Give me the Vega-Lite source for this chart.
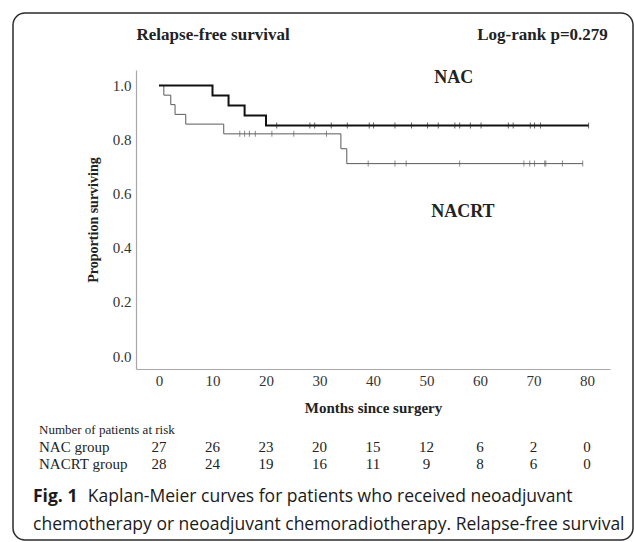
{
  "$schema": "https://vega.github.io/schema/vega-lite/v6.json",
  "width": 620,
  "height": 527,
  "autosize": "none",
  "padding": {"left": 13, "top": 13, "right": 1, "bottom": 2},
  "background": "white",
  "config": {
    "view": {"stroke": "#2b2b2b", "strokeWidth": 1.5, "cornerRadius": 12, "fill": "white"},
    "axis": {"grid": false, "ticks": false, "domainColor": "#a8a8a8", "domainWidth": 1.2, "labelFont": "Liberation Serif", "labelFontSize": 15, "labelColor": "#333333", "titleFont": "Liberation Serif", "titleFontWeight": "bold", "titleColor": "#222222"},
    "text": {"font": "Liberation Serif", "baseline": "middle", "color": "#222222"}
  },
  "datasets": {
    "km": [
      {"group": "NAC", "time": 0, "surv": 1.0},
      {"group": "NAC", "time": 10, "surv": 0.963},
      {"group": "NAC", "time": 13, "surv": 0.926},
      {"group": "NAC", "time": 16, "surv": 0.889},
      {"group": "NAC", "time": 20, "surv": 0.852},
      {"group": "NAC", "time": 80.3, "surv": 0.852},
      {"group": "NACRT", "time": 0, "surv": 1.0},
      {"group": "NACRT", "time": 0.9, "surv": 0.964},
      {"group": "NACRT", "time": 2.2, "surv": 0.929},
      {"group": "NACRT", "time": 3.0, "surv": 0.893},
      {"group": "NACRT", "time": 5.0, "surv": 0.857},
      {"group": "NACRT", "time": 12.1, "surv": 0.821},
      {"group": "NACRT", "time": 34.0, "surv": 0.766},
      {"group": "NACRT", "time": 35.1, "surv": 0.711},
      {"group": "NACRT", "time": 79.2, "surv": 0.711}
    ],
    "cens": [
      {"group": "NAC", "time": 22.0, "surv": 0.852},
      {"group": "NAC", "time": 28.2, "surv": 0.852},
      {"group": "NAC", "time": 29.1, "surv": 0.852},
      {"group": "NAC", "time": 32.2, "surv": 0.852},
      {"group": "NAC", "time": 35.2, "surv": 0.852},
      {"group": "NAC", "time": 39.3, "surv": 0.852},
      {"group": "NAC", "time": 40.1, "surv": 0.852},
      {"group": "NAC", "time": 44.1, "surv": 0.852},
      {"group": "NAC", "time": 47.2, "surv": 0.852},
      {"group": "NAC", "time": 50.2, "surv": 0.852},
      {"group": "NAC", "time": 52.2, "surv": 0.852},
      {"group": "NAC", "time": 55.3, "surv": 0.852},
      {"group": "NAC", "time": 56.2, "surv": 0.852},
      {"group": "NAC", "time": 58.2, "surv": 0.852},
      {"group": "NAC", "time": 60.2, "surv": 0.852},
      {"group": "NAC", "time": 65.3, "surv": 0.852},
      {"group": "NAC", "time": 66.2, "surv": 0.852},
      {"group": "NAC", "time": 69.4, "surv": 0.852},
      {"group": "NAC", "time": 70.2, "surv": 0.852},
      {"group": "NAC", "time": 71.3, "surv": 0.852},
      {"group": "NAC", "time": 80.3, "surv": 0.852},
      {"group": "NACRT", "time": 15.1, "surv": 0.821},
      {"group": "NACRT", "time": 16.0, "surv": 0.821},
      {"group": "NACRT", "time": 16.9, "surv": 0.821},
      {"group": "NACRT", "time": 18.0, "surv": 0.821},
      {"group": "NACRT", "time": 21.1, "surv": 0.821},
      {"group": "NACRT", "time": 25.2, "surv": 0.821},
      {"group": "NACRT", "time": 31.3, "surv": 0.821},
      {"group": "NACRT", "time": 39.1, "surv": 0.711},
      {"group": "NACRT", "time": 44.1, "surv": 0.711},
      {"group": "NACRT", "time": 46.2, "surv": 0.711},
      {"group": "NACRT", "time": 56.2, "surv": 0.711},
      {"group": "NACRT", "time": 68.2, "surv": 0.711},
      {"group": "NACRT", "time": 69.3, "surv": 0.711},
      {"group": "NACRT", "time": 70.2, "surv": 0.711},
      {"group": "NACRT", "time": 72.1, "surv": 0.711},
      {"group": "NACRT", "time": 72.3, "surv": 0.711},
      {"group": "NACRT", "time": 75.4, "surv": 0.711},
      {"group": "NACRT", "time": 79.2, "surv": 0.711}
    ],
    "risk": [
      {"group": "NAC group", "time": 0, "n": 27},
      {"group": "NAC group", "time": 10, "n": 26},
      {"group": "NAC group", "time": 20, "n": 23},
      {"group": "NAC group", "time": 30, "n": 20},
      {"group": "NAC group", "time": 40, "n": 15},
      {"group": "NAC group", "time": 50, "n": 12},
      {"group": "NAC group", "time": 60, "n": 6},
      {"group": "NAC group", "time": 70, "n": 2},
      {"group": "NAC group", "time": 80, "n": 0},
      {"group": "NACRT group", "time": 0, "n": 28},
      {"group": "NACRT group", "time": 10, "n": 24},
      {"group": "NACRT group", "time": 20, "n": 19},
      {"group": "NACRT group", "time": 30, "n": 16},
      {"group": "NACRT group", "time": 40, "n": 11},
      {"group": "NACRT group", "time": 50, "n": 9},
      {"group": "NACRT group", "time": 60, "n": 8},
      {"group": "NACRT group", "time": 70, "n": 6},
      {"group": "NACRT group", "time": 80, "n": 0}
    ]
  },
  "layer": [
    {
      "layer": [
        {
          "data": {"name": "km"},
          "transform": [{"filter": "datum.group === 'NACRT'"}],
          "mark": {"type": "line", "interpolate": "step-after", "strokeWidth": 1, "color": "#5a5a5a"},
          "encoding": {
            "x": {"field": "time", "type": "quantitative", "title": "Months since surgery",
              "scale": {"domain": [-4.3, 84.3], "range": [123, 597], "nice": false, "zero": false},
              "axis": {"values": [0, 10, 20, 30, 40, 50, 60, 70, 80], "offset": -171, "labelPadding": 4, "titlePadding": 12, "titleFontSize": 15}},
            "y": {"field": "surv", "type": "quantitative", "title": "Proportion surviving",
              "scale": {"domain": [-0.048, 1.057], "range": [356, 57], "nice": false, "zero": false},
              "axis": {"values": [0, 0.2, 0.4, 0.6, 0.8, 1.0], "format": ".1f", "offset": -123, "labelPadding": 5, "titlePadding": 12, "titleFontSize": 14}}
          }
        },
        {
          "data": {"name": "km"},
          "transform": [{"filter": "datum.group === 'NAC'"}],
          "mark": {"type": "line", "interpolate": "step-after", "strokeWidth": 2, "color": "#111111"},
          "encoding": {
            "x": {"field": "time", "type": "quantitative", "title": "Months since surgery"},
            "y": {"field": "surv", "type": "quantitative", "title": "Proportion surviving"}
          }
        },
        {
          "data": {"name": "cens"},
          "mark": {"type": "tick", "orient": "vertical", "size": 6, "thickness": 1},
          "encoding": {
            "x": {"field": "time", "type": "quantitative", "title": "Months since surgery"},
            "y": {"field": "surv", "type": "quantitative", "title": "Proportion surviving"},
            "color": {"field": "group", "type": "nominal", "scale": {"domain": ["NAC", "NACRT"], "range": ["#222222", "#5a5a5a"]}, "legend": null}
          }
        },
        {
          "data": {"values": [{}]},
          "mark": {"type": "text", "text": "NAC", "fontSize": 18, "fontWeight": "bold", "align": "center"},
          "encoding": {"x": {"datum": 55.1, "type": "quantitative", "title": "Months since surgery"}, "y": {"datum": 1.027, "type": "quantitative", "title": "Proportion surviving"}}
        },
        {
          "data": {"values": [{}]},
          "mark": {"type": "text", "text": "NACRT", "fontSize": 18, "fontWeight": "bold", "align": "center"},
          "encoding": {"x": {"datum": 56.8, "type": "quantitative", "title": "Months since surgery"}, "y": {"datum": 0.532, "type": "quantitative", "title": "Proportion surviving"}}
        },
        {
          "data": {"values": [{}]},
          "mark": {"type": "text", "text": "Relapse-free survival", "fontSize": 17, "fontWeight": "bold", "align": "left"},
          "encoding": {"x": {"datum": -4.2, "type": "quantitative", "title": "Months since surgery"}, "y": {"datum": 1.186, "type": "quantitative", "title": "Proportion surviving"}}
        },
        {
          "data": {"values": [{}]},
          "mark": {"type": "text", "text": "Log-rank p=0.279", "fontSize": 17, "fontWeight": "bold", "align": "right"},
          "encoding": {"x": {"datum": 83.9, "type": "quantitative", "title": "Months since surgery"}, "y": {"datum": 1.186, "type": "quantitative", "title": "Proportion surviving"}}
        },
        {
          "data": {"values": [{}]},
          "mark": {"type": "text", "text": "Fig. 1", "font": "Open Sans", "fontSize": 17.5, "fontWeight": "bold", "align": "left", "color": "#1a1a1a"},
          "encoding": {"x": {"datum": -23.55, "type": "quantitative", "title": "Months since surgery"}, "y": {"datum": -0.521, "type": "quantitative", "title": "Proportion surviving"}}
        },
        {
          "data": {"values": [{}]},
          "mark": {"type": "text", "text": "Kaplan-Meier curves for patients who received neoadjuvant", "font": "Open Sans", "fontSize": 17.5, "align": "left", "color": "#1a1a1a"},
          "encoding": {"x": {"datum": -13.3, "type": "quantitative", "title": "Months since surgery"}, "y": {"datum": -0.521, "type": "quantitative", "title": "Proportion surviving"}}
        },
        {
          "data": {"values": [{}]},
          "mark": {"type": "text", "text": "chemotherapy or neoadjuvant chemoradiotherapy. Relapse-free survival", "font": "Open Sans", "fontSize": 17.5, "align": "left", "color": "#1a1a1a"},
          "encoding": {"x": {"datum": -23.55, "type": "quantitative", "title": "Months since surgery"}, "y": {"datum": -0.6246, "type": "quantitative", "title": "Proportion surviving"}}
        }
      ]
    },
    {
      "layer": [
        {
          "data": {"name": "risk"},
          "mark": {"type": "text", "fontSize": 15, "align": "center"},
          "encoding": {
            "x": {"field": "time", "type": "quantitative", "title": "Months since surgery"},
            "y": {"field": "group", "type": "nominal", "scale": {"domain": ["Number of patients at risk", "NAC group", "NACRT group"], "range": [417, 451.3], "padding": 0}, "axis": null},
            "text": {"field": "n", "type": "quantitative"}
          }
        },
        {
          "data": {"name": "risk"},
          "transform": [{"filter": "datum.time === 0"}],
          "mark": {"type": "text", "fontSize": 15, "align": "left"},
          "encoding": {
            "x": {"datum": -22.43, "type": "quantitative", "title": "Months since surgery"},
            "y": {"field": "group", "type": "nominal", "axis": null},
            "text": {"field": "group", "type": "nominal"}
          }
        },
        {
          "data": {"values": [{"group": "Number of patients at risk"}]},
          "mark": {"type": "text", "fontSize": 13, "align": "left"},
          "encoding": {
            "x": {"datum": -22.43, "type": "quantitative", "title": "Months since surgery"},
            "y": {"field": "group", "type": "nominal", "axis": null},
            "text": {"field": "group", "type": "nominal"}
          }
        }
      ]
    }
  ],
  "resolve": {"scale": {"y": "independent"}}
}
